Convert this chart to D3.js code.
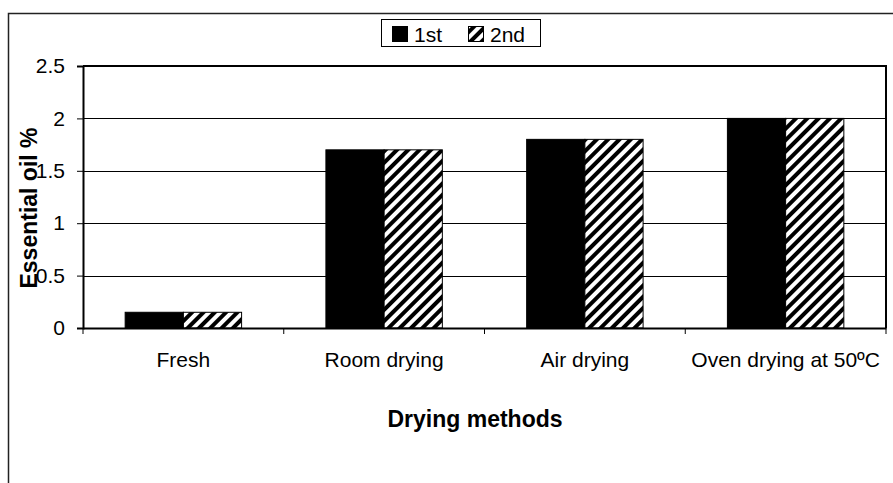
<!DOCTYPE html>
<html>
<head>
<meta charset="utf-8">
<script src="https://cdn.jsdelivr.net/npm/d3@7"></script>
<style>
    html, body { margin: 0; padding: 0; background: #fff; }
    svg { display: block; font-family: "Liberation Sans", Arial, sans-serif; }
</style>
</head>
<body>
<div id="chart"></div>
<script>
// Chart data
const categories = ["Fresh", "Room drying", "Air drying", "Oven drying at 50ºC"];
const seriesNames = ["1st", "2nd"];
const firstValues = [0.15, 1.7, 1.8, 2.0];
const secondValues = [0.15, 1.7, 1.8, 2.0];
const yTicks = [0, 0.5, 1, 1.5, 2, 2.5];

const width = 893;
const height = 483;
const plot = { left: 83, right: 886, top: 66, bottom: 328 };

const svg = d3.select("#chart")
    .append("svg")
    .attr("width", width)
    .attr("height", height);

// Diagonal hatch used for the 2nd series
svg.append("defs")
    .append("pattern")
    .attr("id", "hatch")
    .attr("patternUnits", "userSpaceOnUse")
    .attr("width", 8)
    .attr("height", 8)
    .attr("patternTransform", "rotate(45)")
    .call(p => {
        p.append("rect").attr("width", 8).attr("height", 8).attr("fill", "#fff");
        p.append("rect").attr("width", 4).attr("height", 8).attr("fill", "#000");
    });

// Outer chart frame (runs off the right and bottom edges)
svg.append("rect")
    .attr("x", 8.5)
    .attr("y", 13.5)
    .attr("width", 1000)
    .attr("height", 600)
    .attr("fill", "none")
    .attr("stroke", "#222")
    .attr("stroke-width", 1.5);

// Scales
const x0 = d3.scaleBand()
    .domain(categories)
    .range([plot.left, plot.right]);

const bw = x0.bandwidth();
const x1 = d3.scaleBand()
    .domain(seriesNames)
    .range([bw * 0.21, bw * 0.79]);

const y = d3.scaleLinear()
    .domain([0, 2.5])
    .range([plot.bottom, plot.top]);

// Horizontal gridlines
svg.append("g")
    .selectAll("line")
    .data(yTicks.slice(1, -1))
    .enter()
    .append("line")
    .attr("x1", plot.left)
    .attr("x2", plot.right)
    .attr("y1", d => Math.round(y(d)) + 0.5)
    .attr("y2", d => Math.round(y(d)) + 0.5)
    .attr("stroke", "#000")
    .attr("stroke-width", 1);

// Bars
const rows = categories.map((c, i) => ({ cat: c, values: [firstValues[i], secondValues[i]] }));
const fills = ["#000", "url(#hatch)"];

svg.append("g")
    .selectAll("g")
    .data(rows)
    .enter()
    .append("g")
    .attr("transform", d => `translate(${x0(d.cat)},0)`)
    .selectAll("rect")
    .data(d => d.values.map((v, j) => ({ name: seriesNames[j], value: v, fill: fills[j] })))
    .enter()
    .append("rect")
    .attr("x", d => x1(d.name))
    .attr("y", d => y(d.value))
    .attr("width", x1.bandwidth())
    .attr("height", d => y(0) - y(d.value))
    .attr("fill", d => d.fill)
    .attr("stroke", "#000")
    .attr("stroke-width", 1);

// Plot area frame (top and right edges)
svg.append("path")
    .attr("d", `M${plot.left},${plot.top}H${plot.right}V${plot.bottom}`)
    .attr("fill", "none")
    .attr("stroke", "#000")
    .attr("stroke-width", 2);

// Y axis
const yAxis = d3.axisLeft(y)
    .tickValues(yTicks)
    .tickSize(6)
    .tickPadding(12)
    .tickFormat(d => d);

svg.append("g")
    .attr("transform", `translate(${plot.left},0)`)
    .call(yAxis)
    .call(g => g.select(".domain").attr("stroke", "#000").attr("stroke-width", 2))
    .call(g => g.selectAll(".tick line").attr("stroke", "#000"))
    .call(g => g.selectAll(".tick text")
        .attr("font-family", "Liberation Sans, Arial, sans-serif")
        .attr("font-size", 21)
        .attr("fill", "#000"));

// X axis: ticks sit on the category boundaries
const xAxis = d3.axisBottom(x0)
    .tickSize(0)
    .tickPadding(24);

svg.append("g")
    .attr("transform", `translate(0,${plot.bottom})`)
    .call(xAxis)
    .call(g => g.select(".domain").attr("stroke", "#000").attr("stroke-width", 2))
    .call(g => g.selectAll(".tick text")
        .attr("font-family", "Liberation Sans, Arial, sans-serif")
        .attr("font-size", 21)
        .attr("fill", "#000"));

svg.append("g")
    .selectAll("line")
    .data(categories.map(c => x0(c)).concat([plot.right]))
    .enter()
    .append("line")
    .attr("x1", d => d)
    .attr("x2", d => d)
    .attr("y1", plot.bottom)
    .attr("y2", plot.bottom + 6)
    .attr("stroke", "#000")
    .attr("stroke-width", 1);

// Axis titles
svg.append("text")
    .attr("x", 475)
    .attr("y", 427)
    .attr("text-anchor", "middle")
    .attr("font-size", 23)
    .attr("font-weight", "bold")
    .text("Drying methods");

svg.append("text")
    .attr("transform", "translate(37,208) rotate(-90)")
    .attr("text-anchor", "middle")
    .attr("font-size", 23)
    .attr("font-weight", "bold")
    .text("Essential oil %");

// Legend
const legend = svg.append("g");
legend.append("rect")
    .attr("x", 381.5)
    .attr("y", 19.5)
    .attr("width", 159)
    .attr("height", 27)
    .attr("fill", "#fff")
    .attr("stroke", "#000")
    .attr("stroke-width", 1);

const legendX = [392, 468];
seriesNames.forEach((name, i) => {
    legend.append("rect")
        .attr("x", legendX[i] + 0.5)
        .attr("y", 26.5)
        .attr("width", 15)
        .attr("height", 15)
        .attr("fill", fills[i])
        .attr("stroke", "#000")
        .attr("stroke-width", 1);
    legend.append("text")
        .attr("x", legendX[i] + 22)
        .attr("y", 42)
        .attr("font-size", 21)
        .text(name);
});
</script>
</body>
</html>
